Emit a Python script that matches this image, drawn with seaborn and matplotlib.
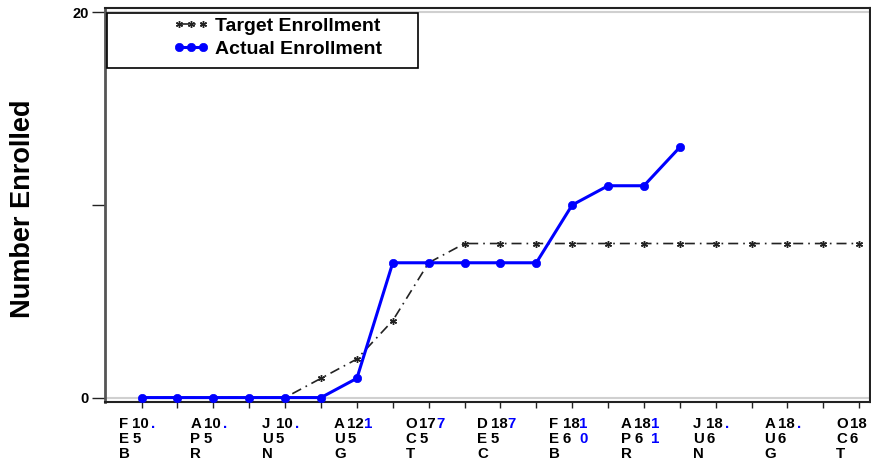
import numpy as np
import pandas as pd
import matplotlib
matplotlib.use("Agg")
import matplotlib.pyplot as plt
import seaborn as sns
from matplotlib.patches import Rectangle

# ---------------- data ----------------
months = ["Feb 2015", "Mar 2015", "Apr 2015", "May 2015", "Jun 2015", "Jul 2015",
          "Aug 2015", "Sep 2015", "Oct 2015", "Nov 2015", "Dec 2015", "Jan 2016",
          "Feb 2016", "Mar 2016", "Apr 2016", "May 2016", "Jun 2016", "Jul 2016",
          "Aug 2016", "Sep 2016", "Oct 2016"]
target_enrollment = [0, 0, 0, 0, 0, 1, 2, 4, 7, 8, 8, 8, 8, 8, 8, 8, 8, 8, 8, 8, 8]
actual_enrollment = [0, 0, 0, 0, 0, 0, 1, 7, 7, 7, 7, 7, 10, 11, 11, 13]

# tick labels (every other month), as printed in the source
label_letters = ["FEB", "APR", "JUN", "AUG", "OCT", "DEC", "FEB", "APR", "JUN", "AUG", "OCT"]
label_top_num = ["10", "10", "10", "12", "17", "18", "18", "18", "18", "18", "18"]
label_bot_num = ["5", "5", "5", "5", "5", "5", "6", "6", "6", "6", "6"]
label_blue = [".", ".", ".", "1", "7", "7", "10", "11", ".", ".", ""]

y_ticks = [0, 10, 20]
y_ticklabels = ["0", "", "20"]

# ---------------- style ----------------
sns.set_theme(style="white")
plt.rcParams["font.family"] = ["Liberation Sans", "DejaVu Sans"]
plt.rcParams["font.weight"] = "bold"
plt.rcParams["text.color"] = "black"
plt.rcParams["ytick.color"] = "black"
plt.rcParams["xtick.color"] = "black"

W, H = 871, 462
fig = plt.figure(figsize=(W / 100, H / 100), dpi=100)
ax = fig.add_axes([105 / W, 1 - 402 / H, 765 / W, 394 / H])

idx = np.arange(len(months))
df_t = pd.DataFrame({"m": idx, "v": target_enrollment})
df_a = pd.DataFrame({"m": idx[:len(actual_enrollment)], "v": actual_enrollment})

# reference lines at 0 and 20
ax.axhline(0, color="#d0d0d0", lw=1.5, zorder=1)
ax.axhline(20, color="#d0d0d0", lw=1.5, zorder=1)

sns.lineplot(data=df_t, x="m", y="v", ax=ax, color="#222222", lw=1.2,
             linestyle=(0, (6, 3, 1, 3)), marker=(6, 2, 0), markersize=5,
             markeredgecolor="#222222", markeredgewidth=1.0,
             label="Target Enrollment", zorder=3)
sns.lineplot(data=df_a, x="m", y="v", ax=ax, color="#0000ff", lw=2.2,
             marker="o", markersize=6, markeredgecolor="#0000ff",
             markeredgewidth=0.5, label="Actual Enrollment", zorder=4)

ax.set_xlim(-1.02, 20.3)
ax.set_ylim(-0.23, 20.23)

ax.set_yticks(y_ticks)
ax.set_yticklabels(y_ticklabels, fontsize=10.5, fontweight="bold", color="black")
ax.set_xticks(idx)
ax.set_xticklabels([])
ax.tick_params(axis="y", direction="out", length=9.5, width=1, color="#222222",
               pad=2, left=True)
ax.tick_params(axis="x", direction="out", length=4.5, width=1, color="#222222",
               bottom=True)
ax.set_xlabel("")
ax.set_ylabel("")

for side in ["left", "right", "top", "bottom"]:
    ax.spines[side].set_visible(True)
    ax.spines[side].set_color("#222222")
    ax.spines[side].set_linewidth(1.5)
ax.spines["left"].set_color("#555555")
ax.spines["left"].set_linewidth(2)

# custom multi-row tick labels
px = 72 / 100  # pixels -> points
fs = 10.8
for k in range(len(label_letters)):
    xpos = 2 * k
    letters = label_letters[k]
    for r, ch in enumerate(letters):
        ax.annotate(ch, xy=(xpos, 0), xycoords=("data", "axes fraction"),
                    xytext=(-23 * px, -(26.5 + 14.8 * r) * px),
                    textcoords="offset points", ha="left", va="baseline",
                    fontsize=fs, fontweight="bold", color="black",
                    annotation_clip=False)
    for r, s in enumerate([label_top_num[k], label_bot_num[k]]):
        ax.annotate(s, xy=(xpos, 0), xycoords=("data", "axes fraction"),
                    xytext=(-9.5 * px, -(26.5 + 14.8 * r) * px),
                    textcoords="offset points", ha="left", va="baseline",
                    fontsize=fs, fontweight="bold", color="black",
                    annotation_clip=False)
    for r, ch in enumerate(label_blue[k]):
        ax.annotate(ch, xy=(xpos, 0), xycoords=("data", "axes fraction"),
                    xytext=(11.5 * px, -(26.5 + 14.8 * r) * px),
                    textcoords="offset points", ha="center", va="baseline",
                    fontsize=fs, fontweight="bold", color="#0000ff",
                    annotation_clip=False)

# y label
fig.text(23 / W, 1 - 209 / H, "Number Enrolled", rotation=90, ha="center",
         va="center", fontsize=19.5, fontweight="bold", color="black")

# legend box + legend
ax.add_patch(Rectangle(((107.3 - 105) / 765, (402 - 68.3) / 394),
                       310.7 / 765, 55 / 394, transform=ax.transAxes,
                       facecolor="white", edgecolor="black", lw=1.2, zorder=5))
leg = ax.legend(loc="upper left", bbox_to_anchor=((173 - 105) / 765, (402 - 17.5) / 394),
                frameon=False, borderpad=0, borderaxespad=0, numpoints=3,
                handlelength=1.85, handletextpad=0.3, labelspacing=0.25,
                prop={"family": "Liberation Sans", "weight": "bold", "size": 14})
leg.set_zorder(6)
for t in leg.get_texts():
    t.set_color("black")

fig.savefig("out.png", dpi=100)
